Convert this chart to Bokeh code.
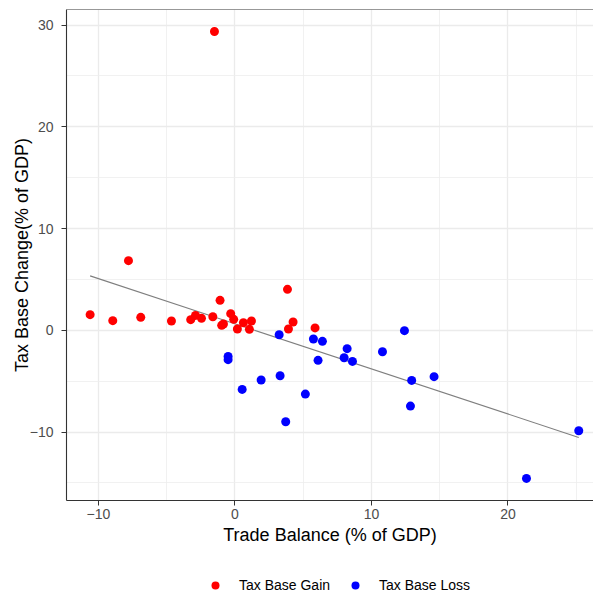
import numpy as np
from bokeh.plotting import figure
from bokeh.layouts import column
from bokeh.models import (ColumnDataSource, FixedTicker, Legend, LegendItem, Range1d, Span)
from bokeh.embed import file_html
from bokeh.resources import INLINE

# ---- data ----
gain_x = [-1.50, -7.80, -10.61, -8.95, -6.90, -4.65, -3.24, -2.89, -2.45, -1.62,
          -1.09, -0.97, -0.84, -0.31, -0.09, 0.18, 0.62, 1.06, 1.21, 3.85,
          4.26, 3.92, 5.87]
gain_y = [29.37, 6.85, 1.54, 0.95, 1.28, 0.92, 1.05, 1.47, 1.18, 1.34,
          2.95, 0.49, 0.62, 1.64, 1.08, 0.13, 0.75, 0.10, 0.92, 4.03,
          0.82, 0.13, 0.24]
loss_x = [3.24, -0.50, -0.50, 0.53, 1.92, 3.31, 3.72, 5.16, 5.75, 6.41,
          6.09, 8.22, 8.00, 8.61, 10.81, 12.42, 12.95, 14.59, 12.86, 25.19,
          21.36]
loss_y = [-0.43, -2.56, -2.88, -5.80, -4.88, -4.46, -8.98, -6.26, -0.85, -1.08,
          -2.95, -1.80, -2.69, -3.05, -2.10, -0.03, -4.92, -4.55, -7.44, -9.87,
          -14.55]
x_ticks = [-10, 0, 10, 20]
x_minor = [-5, 5, 15, 25]
y_ticks = [-10, 0, 10, 20, 30]
y_minor = [-15, -5, 5, 15, 25]
legend_labels = ["Tax Base Gain", "Tax Base Loss"]
colors = ["#FF0000", "#0000FF"]

FONT = "Liberation Sans"

# linear fit over all points
all_x = np.array(gain_x + loss_x)
all_y = np.array(gain_y + loss_y)
slope, intercept = np.polyfit(all_x, all_y, 1)
fit_x = [all_x.min(), all_x.max()]
fit_y = [slope * v + intercept for v in fit_x]

p = figure(width=593, height=548, output_backend="svg", toolbar_location=None,
           x_range=Range1d(-12.34, 26.27), y_range=Range1d(-16.72, 31.53),
           min_border_left=66, min_border_right=0, min_border_top=9,
           min_border_bottom=48)
p.outline_line_color = None
p.background_fill_color = "white"
p.border_fill_color = "white"

# grid
p.xaxis.ticker = FixedTicker(ticks=x_ticks, minor_ticks=x_minor)
p.yaxis.ticker = FixedTicker(ticks=y_ticks, minor_ticks=y_minor)
for g in (p.xgrid[0], p.ygrid[0]):
    g.grid_line_color = "#EBEBEB"
    g.grid_line_width = 1.3
    g.minor_grid_line_color = "#EEEEEE"
    g.minor_grid_line_width = 0.8

# axes
for ax in (p.xaxis[0], p.yaxis[0]):
    ax.axis_line_color = "#333333"
    ax.axis_line_width = 1.1
    ax.major_tick_line_color = "#333333"
    ax.major_tick_in = 0
    ax.major_tick_out = 5
    ax.minor_tick_line_color = None
    ax.major_label_text_font = FONT
    ax.major_label_text_font_size = "14px"
    ax.major_label_text_color = "#4D4D4D"
    ax.axis_label_text_font = FONT
    ax.axis_label_text_font_size = "18px"
    ax.axis_label_text_font_style = "normal"
    ax.axis_label_text_color = "black"
p.xaxis.axis_label = "Trade Balance (% of GDP)"
p.yaxis.axis_label = "Tax Base Change(% of GDP)"
p.xaxis.major_label_standoff = 3
p.xaxis.axis_label_standoff = 3
p.yaxis.major_label_standoff = 8
p.yaxis.axis_label_standoff = -5

# top border of panel
p.add_layout(Span(location=31.53, dimension="width", line_color="#333333", line_width=1.1))

# fit line
p.line(fit_x, fit_y, line_color="#7F7F7F", line_width=1.1)

# points
src_g = ColumnDataSource(dict(x=gain_x, y=gain_y))
src_l = ColumnDataSource(dict(x=loss_x, y=loss_y))
p.scatter("x", "y", source=src_g, size=9, fill_color=colors[0], line_color=colors[0], line_width=0)
p.scatter("x", "y", source=src_l, size=9, fill_color=colors[1], line_color=colors[1], line_width=0)

# legend strip below the chart
lf = figure(width=593, height=47, output_backend="svg", toolbar_location=None,
            x_range=Range1d(0, 1), y_range=Range1d(0, 1),
            min_border=0, min_border_left=0, min_border_right=0,
            min_border_top=0, min_border_bottom=0)
lf.axis.visible = False
lf.grid.visible = False
lf.outline_line_color = None
lf.background_fill_color = "white"
lf.border_fill_color = "white"
items = []
for lab, col in zip(legend_labels, colors):
    # legend-only renderer: a single NaN point, nothing is drawn in the frame
    r = lf.scatter(x=[np.nan], y=[np.nan], size=9, fill_color=col, line_color=col, line_width=0)
    items.append(LegendItem(label=lab, renderers=[r]))
legend = Legend(items=items, orientation="horizontal", location=(139, 0),
                glyph_width=20, glyph_height=20, label_standoff=14, spacing=15,
                padding=0, margin=0, border_line_color=None,
                background_fill_alpha=0,
                label_text_font=FONT, label_text_font_size="14px",
                label_text_color="black")
lf.add_layout(legend, "center")

layout = column(p, lf, spacing=0)
open("out.html", "w").write(file_html(layout, INLINE))
